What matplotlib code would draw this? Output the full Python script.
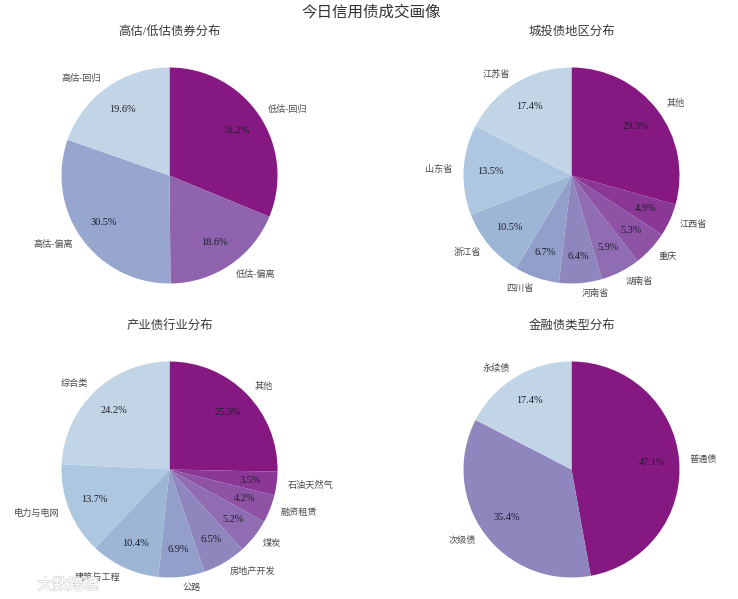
import numpy as np
import matplotlib.pyplot as plt
import matplotlib.patheffects as pe

plt.rcParams['font.family'] = ['Liberation Serif', 'Noto Sans CJK SC']

W, H = 738, 599

# 高估/低估
labels_1 = ['低估-回归', '低估-偏离', '高估-偏离', '高估-回归']
values_1 = [31.2, 18.6, 30.5, 19.6]

# 城投债地区
labels_2 = ['其他', '江西省', '重庆', '湖南省', '河南省', '四川省', '浙江省', '山东省', '江苏省']
values_2 = [29.3, 4.9, 5.3, 5.9, 6.4, 6.7, 10.5, 13.5, 17.4]

# 产业债行业
labels_3 = ['其他', '石油天然气', '融资租赁', '煤炭', '房地产开发', '公路', '建筑与工程', '电力与电网', '综合类']
values_3 = [25.3, 3.5, 4.2, 5.2, 6.5, 6.9, 10.4, 13.7, 24.2]

# 金融债类型
labels_4 = ['普通债', '次级债', '永续债']
values_4 = [47.1, 35.4, 17.4]

titles = ['高估/低估债券分布', '城投债地区分布', '产业债行业分布', '金融债类型分布']
centers = [(169.5, 175.5), (571.5, 175.5), (169.5, 469.5), (571.5, 469.5)]
title_y = [31.5, 31.5, 325.5, 325.5]
radius = 108

fig = plt.figure(figsize=(W / 100, H / 100), dpi=100, facecolor='white')

panels = [(labels_1, values_1), (labels_2, values_2), (labels_3, values_3), (labels_4, values_4)]
for (labels, values), title, (cx, cy), ty in zip(panels, titles, centers, title_y):
    # default pie limits are +-1.25
    half = radius * 1.25
    ax = fig.add_axes([(cx - half) / W, 1 - (cy + half) / H, 2 * half / W, 2 * half / H])
    colors = plt.cm.BuPu_r(np.linspace(0.125, 0.75, len(values)))
    wedges, texts, pcts = ax.pie(values, labels=labels, colors=colors, startangle=90, counterclock=False,
                                 autopct='%.1f%%', pctdistance=0.75, labeldistance=1.1,
                                 wedgeprops={'alpha': 0.96},
                                 textprops={'fontsize': 6.6, 'color': '#4a4a4a'})
    for p in pcts:
        p.set_fontsize(7.4)
        p.set_color('#1c1c2c')
    fig.text(cx / W, 1 - ty / H, title, ha='center', va='center', fontsize=8.9, color='#3a3a3a')

fig.text(371 / W, 1 - 12.5 / H, '今日信用债成交画像', ha='center', va='center', fontsize=11.2, color='#333333')

# watermark
wm = fig.text(68 / W, 1 - 585 / H, '大数跨境', ha='center', va='center', fontsize=11, color='white')
wm.set_path_effects([pe.withStroke(linewidth=1.0, foreground='#cfcfcf'), pe.Normal()])

fig.savefig('out.png', dpi=100)
